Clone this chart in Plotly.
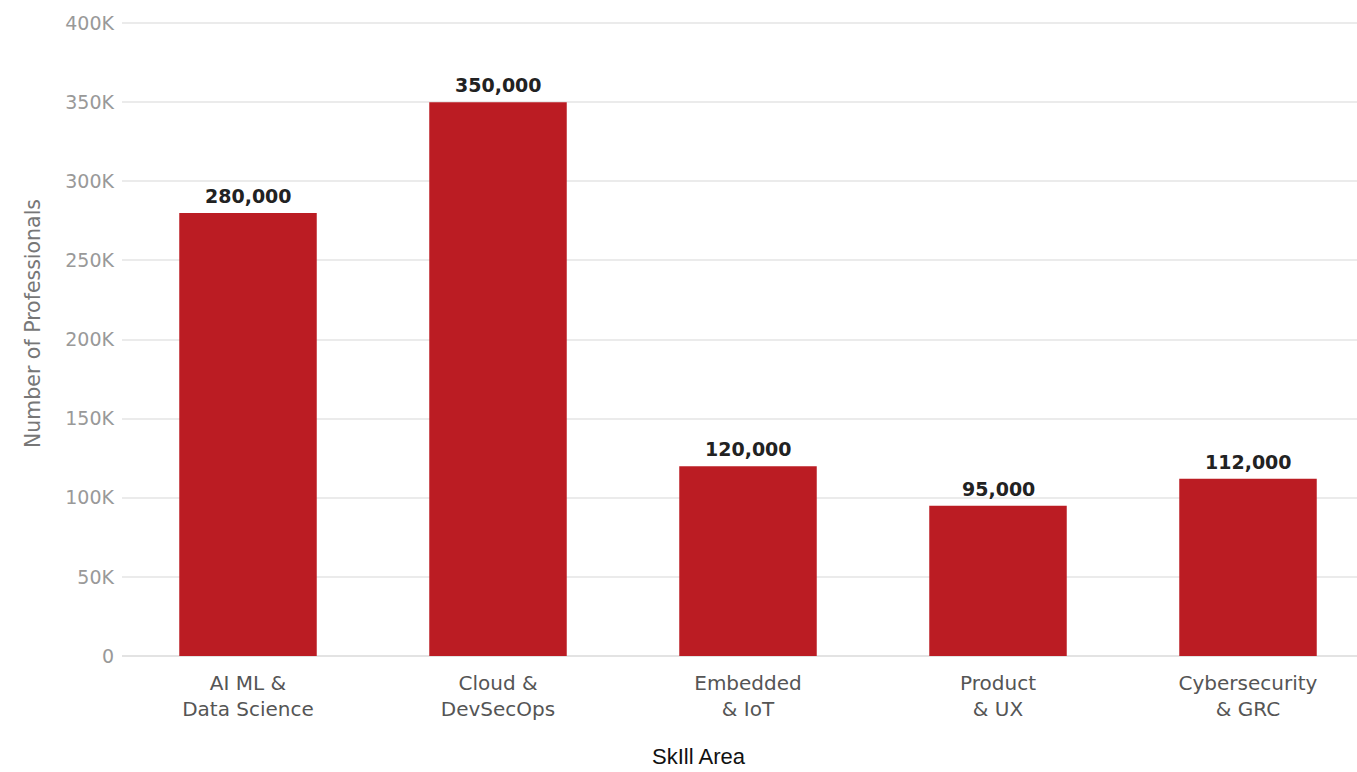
import plotly.graph_objects as go

# Skill areas and headcount of professionals
categories = ["AI ML &<br>Data Science", "Cloud &<br>DevSecOps", "Embedded<br>& IoT",
              "Product<br>& UX", "Cybersecurity<br>& GRC"]
professionals = [280000, 350000, 120000, 95000, 112000]
value_labels = [f"{v:,}" for v in professionals]
y_ticks = [0, 50000, 100000, 150000, 200000, 250000, 300000, 350000, 400000]
y_tick_text = ["0", "50K", "100K", "150K", "200K", "250K", "300K", "350K", "400K"]

W, H = 1357, 772
L, R, T, B = 122, 0, 20, 116
Y_MAX = 402000
PLOT_W, PLOT_H = W - L - R, H - T - B

fig = go.Figure(go.Bar(
    x=list(range(len(categories))),
    y=professionals,
    width=0.55,
    marker=dict(color="#BB1C23", line=dict(width=0)),
    hoverinfo="y",
))

# value labels above each bar
annotations = [
    dict(x=i, y=v, xref="x", yref="y", text=lbl, showarrow=False,
         xanchor="center", yanchor="bottom", yshift=4,
         font=dict(family="DejaVu Sans", size=19, color="#222222", weight="bold"))
    for i, (v, lbl) in enumerate(zip(professionals, value_labels))
]

# axis titles
annotations.append(dict(
    text="SkIll Area", xref="paper", yref="paper",
    x=(699 - L) / PLOT_W, y=-(757 - (H - B)) / PLOT_H,
    xanchor="center", yanchor="middle", showarrow=False, borderpad=0,
    font=dict(family="Liberation Sans", size=22, color="#111111"),
))
annotations.append(dict(
    text="Number of Professionals", xref="paper", yref="paper",
    x=(33 - L) / PLOT_W, y=(H - B - 324) / PLOT_H,
    xanchor="center", yanchor="middle", textangle=-90, showarrow=False,
    font=dict(family="DejaVu Sans", size=20.5, color="#777777"),
))

fig.update_layout(
    width=W, height=H,
    margin=dict(l=L, r=R, t=T, b=B),
    paper_bgcolor="white", plot_bgcolor="white",
    showlegend=False,
    font=dict(family="DejaVu Sans"),
    xaxis=dict(
        tickmode="array",
        tickvals=list(range(len(categories))),
        ticktext=categories,
        range=[-0.504, 4.436],
        showgrid=False, zeroline=False, showline=False,
        ticks="", ticklen=0,
        ticklabelstandoff=13,
        tickfont=dict(family="DejaVu Sans", size=20, color="#555555"),
    ),
    yaxis=dict(
        range=[0, Y_MAX],
        tickmode="array",
        tickvals=y_ticks,
        ticktext=y_tick_text,
        showgrid=True, gridcolor="#ebebeb", gridwidth=2,
        zeroline=True, zerolinecolor="#e3e3e3", zerolinewidth=2,
        showline=False, ticks="",
        ticklabelstandoff=7,
        tickfont=dict(family="DejaVu Sans", size=19, color="#999999"),
    ),
    annotations=annotations,
)

fig.write_html("out.html")
